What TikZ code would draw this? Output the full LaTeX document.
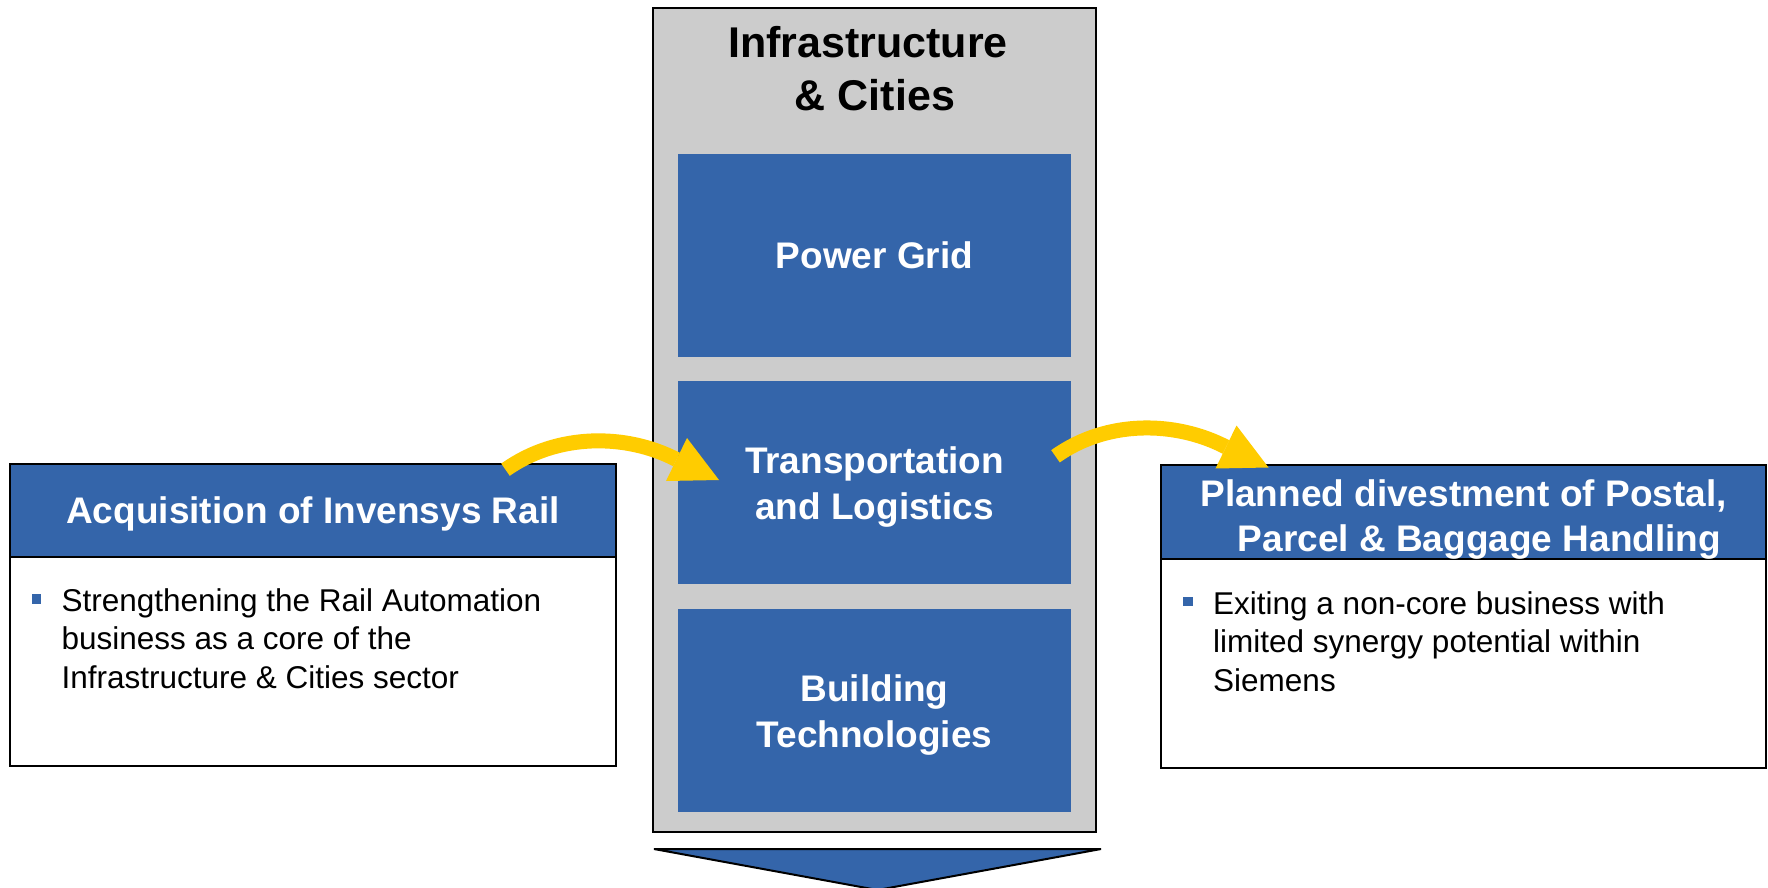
\documentclass[tikz,border=0pt]{standalone}
\usepackage{fontspec}
\setmainfont{Liberation Sans}
\definecolor{sblue}{RGB}{52,101,170}
\definecolor{sgray}{RGB}{204,204,204}
\definecolor{syellow}{RGB}{255,204,0}
\begin{document}
\begin{tikzpicture}[x=1pt,y=-1pt,
  sectorbox/.style={draw=black,line width=2.2pt,fill=sgray,inner sep=0pt},
  titletext/.style={align=center,inner sep=0pt,font=\fontsize{43}{53}\selectfont\bfseries},
  bluebox/.style={fill=sblue,draw=none,text=white,align=center,inner sep=0pt,
    minimum width=393pt,minimum height=203pt,font=\fontsize{37}{46}\selectfont\bfseries},
  headbox/.style={fill=sblue,draw=black,line width=2pt,text=white,align=center,inner sep=0pt,
    font=\fontsize{37}{45}\selectfont\bfseries},
  bodybox/.style={fill=white,draw=black,line width=2pt,inner sep=0pt},
  bullettext/.style={anchor=north west,align=left,inner sep=0pt,font=\fontsize{31.5}{38.5}\selectfont},
  bulletsq/.style={fill=sblue,draw=none,minimum size=9.5pt,inner sep=0pt},
  yshaft/.style={draw=syellow,line width=15pt},
  yhead/.style={fill=syellow,draw=none}
]
\useasboundingbox (0,0) rectangle (1768,888);
\fill[white] (0,0) rectangle (1768,888);

% central sector box
\node[sectorbox,minimum width=443pt,minimum height=824pt] (sector) at (874.5,420) {};
\node[titletext] (title) at (875,69) {Infrastructure\hspace*{14pt}\\\& Cities};
\node[bluebox] (power) at (874.5,255.5) {Power Grid};
\node[bluebox,text height=82.5pt] (transport) at (874.5,482.5) {Transportation\\and Logistics};
\node[bluebox,text height=82.5pt] (building) at (874.5,710.5) {Building\\Technologies};

% bottom arrow
\draw[fill=sblue,line width=2pt,line join=miter] (654,849) -- (1101,849) -- (877.5,890) -- cycle;

% left box
\node[bodybox,minimum width=606pt,minimum height=209pt] (lbody) at (313,661.5) {};
\node[headbox,minimum width=606pt,minimum height=93pt,text height=26.5pt,text depth=0pt] (lhead) at (313,510.5) {Acquisition of Invensys Rail};
\node[bulletsq] (lbul) at (36.5,599) {};
\node[bullettext] (ltext) at (61.3,588) {Strengthening the Rail Automation\\business as a core of the\\Infrastructure \& Cities sector};

% right box
\node[bodybox,minimum width=605pt,minimum height=210pt] (rbody) at (1463.5,663) {};
\node[headbox,minimum width=605pt,minimum height=92pt,text height=86.5pt] (rhead) at (1463.5,512) {Planned divestment of Postal,\\\hspace*{32pt}Parcel \& Baggage Handling};
\node[bulletsq] (rbul) at (1188,601.5) {};
\node[bullettext] (rtext) at (1213,591) {Exiting a non-core business with\\limited synergy potential within\\Siemens};

% yellow curved arrows
\coordinate (t1) at (505.5,469.7);
\coordinate (b1) at (676.5,459.5);
\draw[yshaft] (t1) .. controls +(52,-37) and +(-50,-26) .. (b1);
\fill[yhead] (b1) ++(10.5,-21.5) -- ++(-21,43) -- ++(53,-1) -- cycle;

\coordinate (t2) at (1055.5,456.3);
\coordinate (b2) at (1226,447);
\draw[yshaft] (t2) .. controls +(52,-37) and +(-50,-26) .. (b2);
\fill[yhead] (b2) ++(10.5,-21.5) -- ++(-21,43) -- ++(53,-1) -- cycle;
\end{tikzpicture}
\end{document}
